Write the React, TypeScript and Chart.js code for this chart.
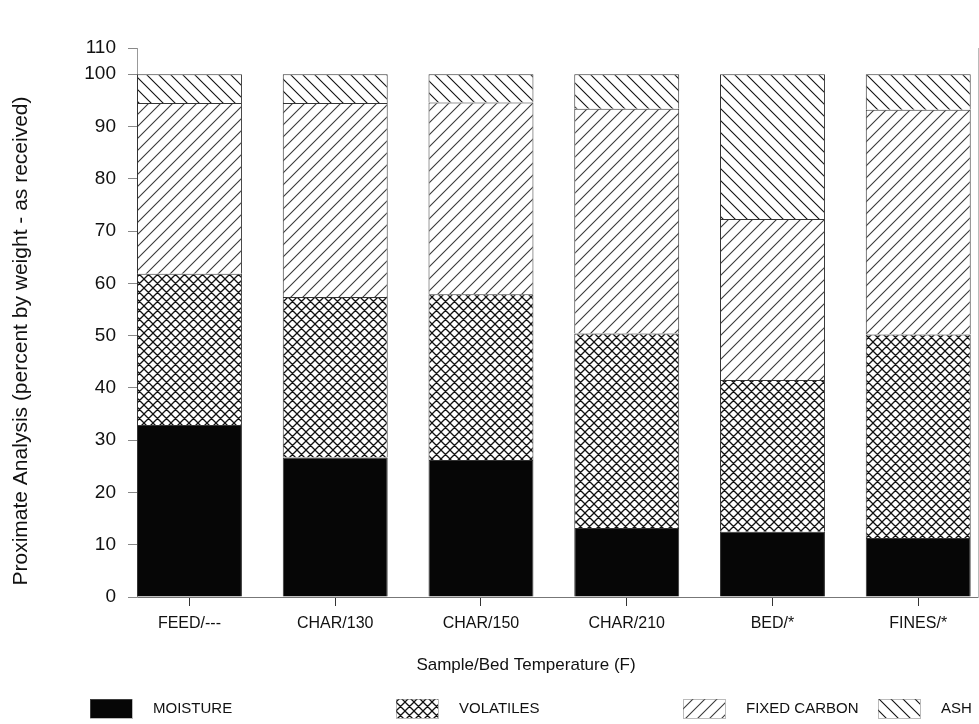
import React, { useEffect, useRef } from 'react';
import { Chart, registerables } from 'chart.js';

Chart.register(...registerables);

const categories = ['FEED/---', 'CHAR/130', 'CHAR/150', 'CHAR/210', 'BED/*', 'FINES/*'];
const moisture = [32.9, 26.7, 26.2, 13.2, 12.5, 11.3];
const volatiles = [28.9, 30.7, 31.7, 37.2, 29.0, 38.9];
const fixedCarbon = [32.7, 37.1, 36.7, 43.0, 30.8, 43.0];
const ash = [5.5, 5.5, 5.4, 6.6, 27.7, 6.8];
const seriesNames = ['MOISTURE', 'VOLATILES', 'FIXED CARBON', 'ASH'];
const yTickValues = [0, 10, 20, 30, 40, 50, 60, 70, 80, 90, 100, 105];
const yTickLabels = ['0', '10', '20', '30', '40', '50', '60', '70', '80', '90', '100', '110'];
const xTitle = 'Sample/Bed Temperature (F)';
const yTitle = 'Proximate Analysis (percent by weight - as received)';

const FONT = '"Liberation Sans", Arial, Helvetica, sans-serif';

type Kind = 'solid' | 'cross' | 'slash' | 'back';

function makePattern(ctx: CanvasRenderingContext2D, kind: Kind): CanvasPattern | string {
  if (kind === 'solid') return '#060606';
  const s = kind === 'cross' ? 9 : 12;
  const c = document.createElement('canvas');
  c.width = s;
  c.height = s;
  const g = c.getContext('2d')!;
  g.fillStyle = '#ffffff';
  g.fillRect(0, 0, s, s);
  g.strokeStyle = kind === 'slash' ? '#3a3a3a' : '#111111';
  g.lineWidth = kind === 'cross' ? 1.3 : 1.1;
  g.beginPath();
  if (kind === 'cross' || kind === 'slash') {
    g.moveTo(-1, s + 1);
    g.lineTo(s + 1, -1);
    g.moveTo(-2, 2);
    g.lineTo(2, -2);
    g.moveTo(s - 2, s + 2);
    g.lineTo(s + 2, s - 2);
  }
  if (kind === 'cross' || kind === 'back') {
    g.moveTo(-1, -1);
    g.lineTo(s + 1, s + 1);
    g.moveTo(-2, s - 2);
    g.lineTo(2, s + 2);
    g.moveTo(s - 2, -2);
    g.lineTo(s + 2, 2);
  }
  g.stroke();
  return ctx.createPattern(c, 'repeat')!;
}

const extrasPlugin = {
  id: 'extras',
  afterDraw(chart: any) {
    const ctx: CanvasRenderingContext2D = chart.ctx;
    ctx.save();
    ctx.fillStyle = '#111';
    // y title
    ctx.font = `21px ${FONT}`;
    ctx.textAlign = 'center';
    ctx.textBaseline = 'middle';
    ctx.save();
    ctx.translate(21, 341);
    ctx.rotate(-Math.PI / 2);
    ctx.fillText(yTitle, 0, 0);
    ctx.restore();
    // x title
    ctx.font = `17px ${FONT}`;
    ctx.fillText(xTitle, 526, 665);
    // legend
    const swatchX = [90, 396, 683, 878];
    ctx.font = `15px ${FONT}`;
    ctx.textAlign = 'left';
    chart.data.datasets.forEach((ds: any, i: number) => {
      const x = swatchX[i];
      ctx.fillStyle = ds.backgroundColor;
      ctx.fillRect(x, 699, 42, 19);
      ctx.strokeStyle = '#777';
      ctx.lineWidth = 1;
      ctx.setLineDash([1, 1]);
      ctx.strokeRect(x + 0.5, 699.5, 42, 19);
      ctx.setLineDash([]);
      ctx.fillStyle = '#111';
      ctx.fillText(seriesNames[i], x + 63, 709);
    });
    ctx.restore();
  },
};

export default function App() {
  const ref = useRef<HTMLCanvasElement | null>(null);

  useEffect(() => {
    const canvas = ref.current!;
    const ctx = canvas.getContext('2d')!;
    const kinds: Kind[] = ['solid', 'cross', 'slash', 'back'];
    const seriesValues = [moisture, volatiles, fixedCarbon, ash];
    const datasets = seriesValues.map((vals, si) => ({
      label: seriesNames[si],
      data: vals.map((v, i) => ({ x: i, y: v })),
      backgroundColor: makePattern(ctx, kinds[si]),
      borderColor: '#333',
      borderWidth: 1,
      barPercentage: 0.72,
      categoryPercentage: 1,
    }));

    const chart = new Chart(canvas, {
      type: 'bar',
      data: { datasets: datasets as any },
      plugins: [extrasPlugin],
      options: {
        animation: false,
        responsive: false,
        layout: { padding: { top: 48, right: 0, left: 0, bottom: 0 } },
        plugins: {
          legend: { display: false },
          tooltip: { enabled: false },
        },
        scales: {
          x: {
            type: 'linear',
            stacked: true,
            offset: false,
            min: -0.36,
            max: 5.41,
            afterBuildTicks: (scale: any) => {
              scale.ticks = categories.map((_, i) => ({ value: i }));
            },
            afterFit: (scale: any) => {
              scale.height = 127;
            },
            ticks: {
              autoSkip: false,
              maxRotation: 0,
              padding: 8,
              color: '#111',
              font: { family: FONT, size: 16 },
              callback: (v: any) => categories[v as number] ?? '',
            },
            grid: {
              offset: false,
              drawOnChartArea: false,
              drawTicks: true,
              tickLength: 9,
              color: '#333',
            },
            border: { display: true, color: '#777', dash: [2, 2], width: 1 },
          },
          y: {
            type: 'linear',
            stacked: true,
            min: 0,
            max: 105,
            afterBuildTicks: (scale: any) => {
              scale.ticks = yTickValues.map((v) => ({ value: v }));
            },
            afterFit: (scale: any) => {
              scale.width = 137;
            },
            ticks: {
              padding: 12,
              color: '#111',
              font: { family: FONT, size: 19 },
              callback: (v: any) => {
                const idx = yTickValues.indexOf(v as number);
                return idx >= 0 ? yTickLabels[idx] : '';
              },
            },
            grid: {
              drawOnChartArea: false,
              drawTicks: true,
              tickLength: 9,
              color: '#888',
            },
            border: { display: true, color: '#999', dash: [1, 2], width: 1 },
          },
          yRight: {
            type: 'linear',
            position: 'right',
            min: 0,
            max: 105,
            afterFit: (scale: any) => {
              scale.width = 1;
            },
            ticks: { display: false },
            grid: { drawOnChartArea: false, drawTicks: false },
            border: { display: true, color: '#bbb', dash: [1, 2], width: 1 },
          },
        },
      } as any,
    });

    return () => chart.destroy();
  }, []);

  return (
    <div style={{ position: 'absolute', left: 0, top: 0, width: 979, height: 724, background: '#fff' }}>
      <canvas ref={ref} width={979} height={724} />
    </div>
  );
}
